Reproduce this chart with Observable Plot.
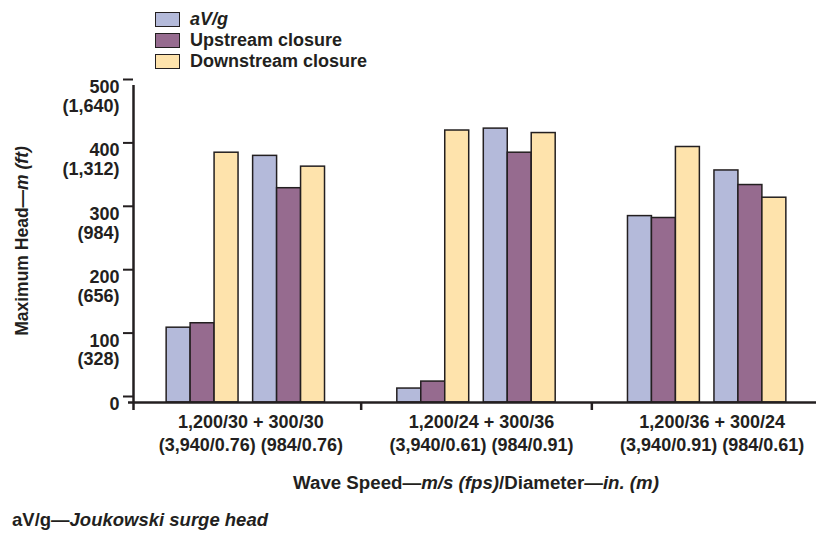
<!DOCTYPE html>
<html>
<head>
<meta charset="utf-8">
<script src="https://cdn.jsdelivr.net/npm/d3@7"></script>
<script src="https://cdn.jsdelivr.net/npm/@observablehq/plot@0.6"></script>
<style>
  html, body { margin: 0; padding: 0; background: #fff; }
  #wrap { position: relative; width: 816px; height: 533px; font-family: "Liberation Sans", Arial, sans-serif; font-weight: bold; color: #231f20; }
  #chart { position: absolute; left: 0; top: 0; }
  #legend { position: absolute; left: 155px; top: 9px; }
  .row { display: flex; align-items: center; height: 21px; font-size: 18px; }
  .sw { width: 23px; height: 13px; border: 1.5px solid #231f20; margin-right: 10px; box-sizing: content-box; }
  #caption { position: absolute; left: 12px; top: 509px; font-size: 18.5px; }
</style>
</head>
<body>
<div id="wrap">
  <div id="chart"></div>
  <div id="legend"></div>
  <div id="caption">aV/g—<i>Joukowski surge head</i></div>
</div>
<script>
// ---- data ----
const groupLine1 = ["1,200/30 + 300/30", "1,200/24 + 300/36", "1,200/36 + 300/24"];
const groupLine2 = ["(3,940/0.76) (984/0.76)", "(3,940/0.61) (984/0.91)", "(3,940/0.91) (984/0.61)"];
const seriesNames = ["aV/g", "Upstream closure", "Downstream closure"];
const seriesColors = ["#b4bada", "#966b8f", "#fee3ac"];
// values per (group, pipe): g1p1, g1p2, g2p1, g2p2, g3p1, g3p2  (m)
const aVg        = [118, 389, 22, 432, 294, 366];
const upstream   = [125, 338, 33, 394, 291, 343];
const downstream = [394, 372, 429, 425, 403, 323];
const yTicks = [0, 100, 200, 300, 400, 500];
const yTicksFt = ["", "328", "656", "984", "1,312", "1,640"];

// ---- layout (in group units) ----
const bw = 0.1039, gap = 0.0632;
const off = (1 - (6 * bw + gap)) / 2;
const seriesValues = [aVg, upstream, downstream];
const rows = [];
for (let g = 0; g < 3; g++) {
  for (let p = 0; p < 2; p++) {
    for (let k = 0; k < 3; k++) {
      const x1 = g + off + (p * 3 + k) * bw + p * gap;
      rows.push({group: g, pipe: p, series: seriesNames[k], value: seriesValues[k][g * 2 + p], x1, x2: x1 + bw});
    }
  }
}

const ink = "#231f20";
const svg = Plot.plot({
  width: 816,
  height: 533,
  marginLeft: 133,
  marginRight: 0,
  marginTop: 85,
  marginBottom: 131,
  style: {fontFamily: "'Liberation Sans', Arial, sans-serif", fontSize: "18px", fontWeight: "bold", color: ink, background: "transparent"},
  x: {domain: [0, 3], range: [130, 822], axis: null, label: null},
  y: {domain: [0, 500], axis: null, label: null},
  color: {domain: seriesNames, range: seriesColors},
  marks: [
    Plot.rectY(rows, {x1: "x1", x2: "x2", y1: 0, y2: "value", fill: "series", stroke: ink, strokeWidth: 1.5}),
    Plot.ruleY([0], {stroke: ink, strokeWidth: 2.5, insetLeft: -5}),
    Plot.ruleX([0], {stroke: ink, strokeWidth: 2.5, dx: 3, insetBottom: -8}),
    Plot.axisX({ticks: [1, 2], tickSize: 8, tickFormat: () => "", label: null, stroke: ink, strokeWidth: 2.5}),
    Plot.axisX({
      ticks: [0.5, 1.5, 2.5], tickSize: 0, tickPadding: 10, lineAnchor: "top", lineHeight: 1.25, dx: 5, label: null,
      tickFormat: v => groupLine1[Math.floor(v)] + "\n" + groupLine2[Math.floor(v)],
      fontSize: 18, fontWeight: "bold", fill: ink
    }),
    Plot.axisY({
      ticks: yTicks, tickSize: 10, tickPadding: 4, lineAnchor: "top", lineHeight: 1.05, dy: -6, label: null,
      tickFormat: v => v + (yTicksFt[yTicks.indexOf(v)] ? "\n(" + yTicksFt[yTicks.indexOf(v)] + ")" : ""),
      fontSize: 18, fontWeight: "bold", stroke: ink, strokeWidth: 2, fill: ink
    })
  ]
});

// axis titles with mixed italics
const s = d3.select(svg);
const yt = s.append("text")
  .attr("transform", "translate(28,241) rotate(-90)")
  .attr("text-anchor", "middle").attr("font-size", 17.5).attr("font-weight", "bold").attr("fill", ink);
yt.append("tspan").text("Maximum Head—");
yt.append("tspan").attr("font-style", "italic").text("m (ft)");

const xt = s.append("text")
  .attr("x", 476).attr("y", 489)
  .attr("text-anchor", "middle").attr("font-size", 18.7).attr("font-weight", "bold").attr("fill", ink);
xt.append("tspan").text("Wave Speed—");
xt.append("tspan").attr("font-style", "italic").text("m/s (fps)");
xt.append("tspan").text("/Diameter—");
xt.append("tspan").attr("font-style", "italic").text("in. (m)");

document.getElementById("chart").appendChild(svg);

// legend
const legend = d3.select("#legend");
seriesNames.forEach((name, i) => {
  const r = legend.append("div").attr("class", "row");
  r.append("div").attr("class", "sw").style("background", seriesColors[i]);
  const t = r.append("span").text(name);
  if (i === 0) t.style("font-style", "italic");
});
</script>
</body>
</html>
